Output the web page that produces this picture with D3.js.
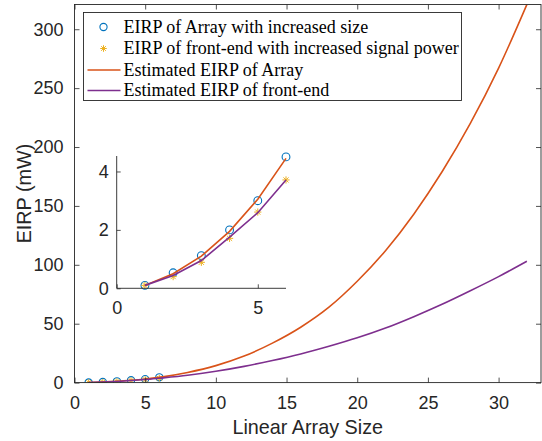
<!DOCTYPE html>
<html>
<head>
<meta charset="utf-8">
<script src="https://cdn.jsdelivr.net/npm/d3@7"></script>
<style>
  body { margin: 0; background: #fff; }
  svg { display: block; }
  .tick text { font-family: "Liberation Sans", Arial, sans-serif; fill: #262626; }
  .tick line { stroke: #262626; }
</style>
</head>
<body>
<div id="chart"></div>
<script>
// Measured points (array size 1..6)
var sizeN = [1, 2, 3, 4, 5, 6];
var eirpArray = [0.1, 0.53, 1.12, 2.0, 3.0, 4.5];
var eirpFrontEnd = [0.1, 0.4, 0.89, 1.71, 2.61, 3.71];

// Estimated curves
var estN = [1, 2, 3, 4, 5, 6, 8, 10, 12, 14, 16, 18, 20, 22, 24, 26, 28, 30, 32];
var estArray = [0.1, 0.5, 1.1, 1.95, 3.05, 4.45, 8.6, 14.4, 22.5, 33.5, 47.0, 64.0, 86.0, 112.0, 143.0, 179.0, 220.0, 267.0, 321.0];
var estFrontEnd = [0.1, 0.44, 0.95, 1.75, 2.59, 3.71, 6.2, 9.6, 13.8, 18.7, 24.3, 30.8, 38.0, 46.3, 56.0, 66.5, 78.0, 90.0, 103.0];

var xTicks = [0, 5, 10, 15, 20, 25, 30];
var yTicks = [0, 50, 100, 150, 200, 250, 300];
var insetXTicks = [0, 5];
var insetYTicks = [0, 2, 4];

var legendLabels = [
  "EIRP of Array with increased size",
  "EIRP of front-end with increased signal power",
  "Estimated EIRP of Array",
  "Estimated EIRP of front-end"
];

var blue = "#0072BD", yellow = "#EDB120", orange = "#D95319", purple = "#7E2F8E";
var axisColor = "#262626";

var svgWidth = 542, svgHeight = 441;

var svg = d3.select("#chart").append("svg")
  .attr("width", svgWidth)
  .attr("height", svgHeight);

var measured = sizeN.map((n, i) => ({n: n, a: eirpArray[i], f: eirpFrontEnd[i]}));
var estimated = estN.map((n, i) => ({n: n, a: estArray[i], f: estFrontEnd[i]}));

// star marker (+ and x)
function starPath(s) {
  var d = s * 0.707;
  return `M${-s},0L${s},0M0,${-s}L0,${s}M${-d},${-d}L${d},${d}M${-d},${d}L${d},${-d}`;
}

function drawSeries(g, x, y, lineData, curve, r) {
  var lineA = d3.line().x(d => x(d.n)).y(d => y(d.a)).curve(curve);
  var lineF = d3.line().x(d => x(d.n)).y(d => y(d.f)).curve(curve);

  g.append("g").selectAll("circle")
    .data(measured).enter().append("circle")
    .attr("cx", d => x(d.n)).attr("cy", d => y(d.a))
    .attr("r", r)
    .attr("fill", "none").attr("stroke", blue).attr("stroke-width", 1.1);

  g.append("g").selectAll("path")
    .data(measured).enter().append("path")
    .attr("transform", d => `translate(${x(d.n)},${y(d.f)})`)
    .attr("d", starPath(r - 0.3))
    .attr("stroke", yellow).attr("stroke-width", 1).attr("fill", "none");

  g.append("path").datum(lineData)
    .attr("d", lineA).attr("fill", "none")
    .attr("stroke", orange).attr("stroke-width", 1.6);

  g.append("path").datum(lineData)
    .attr("d", lineF).attr("fill", "none")
    .attr("stroke", purple).attr("stroke-width", 1.6);
}

// ---------------- Main axes ----------------
var main = {left: 74.5, right: 541, top: 4.5, bottom: 382.6};

var xScale = d3.scaleLinear().domain([0, 33]).range([main.left, main.right]);
var yScale = d3.scaleLinear().domain([0, 321]).range([main.bottom, main.top]);

var mainGroup = svg.append("g");

mainGroup.append("rect")
  .attr("x", main.left).attr("y", main.top)
  .attr("width", main.right - main.left).attr("height", main.bottom - main.top)
  .attr("fill", "#fff");

svg.append("clipPath").attr("id", "clipMain")
  .append("rect")
  .attr("x", main.left).attr("y", main.top)
  .attr("width", main.right - main.left).attr("height", main.bottom - main.top);

drawSeries(mainGroup.append("g").attr("clip-path", "url(#clipMain)"),
  xScale, yScale, estimated, d3.curveMonotoneX, 3.6);

// axes with inward ticks on all four sides
var bottomAxis = d3.axisBottom(xScale).tickValues(xTicks).tickSizeInner(-5).tickSizeOuter(0).tickPadding(14);
var topAxis = d3.axisTop(xScale).tickValues(xTicks).tickSizeInner(-5).tickSizeOuter(0).tickFormat("");
var leftAxis = d3.axisLeft(yScale).tickValues(yTicks).tickSizeInner(-5).tickSizeOuter(0).tickPadding(11);
var rightAxis = d3.axisRight(yScale).tickValues(yTicks).tickSizeInner(-5).tickSizeOuter(0).tickFormat("");

function styleAxis(sel, size) {
  sel.select(".domain").remove();
  sel.selectAll(".tick text").attr("font-size", size);
  sel.selectAll(".tick line").attr("stroke-width", 0.8);
}

mainGroup.append("g").attr("transform", `translate(0,${main.bottom})`).call(bottomAxis).call(styleAxis, 18);
mainGroup.append("g").attr("transform", `translate(0,${main.top})`).call(topAxis).call(styleAxis, 18);
mainGroup.append("g").attr("transform", `translate(${main.left},0)`).call(leftAxis).call(styleAxis, 18);
mainGroup.append("g").attr("transform", `translate(${main.right},0)`).call(rightAxis).call(styleAxis, 18);

mainGroup.append("rect")
  .attr("x", main.left).attr("y", main.top)
  .attr("width", main.right - main.left).attr("height", main.bottom - main.top)
  .attr("fill", "none").attr("stroke", axisColor).attr("stroke-width", 0.9);

// axis labels
mainGroup.append("text")
  .attr("x", (main.left + main.right) / 2)
  .attr("y", 434)
  .attr("text-anchor", "middle")
  .attr("font-family", "Liberation Sans, Arial, sans-serif")
  .attr("font-size", 19.8)
  .attr("fill", axisColor)
  .text("Linear Array Size");

mainGroup.append("text")
  .attr("transform", `translate(31,${(main.top + main.bottom) / 2}) rotate(-90)`)
  .attr("text-anchor", "middle")
  .attr("font-family", "Liberation Sans, Arial, sans-serif")
  .attr("font-size", 19.8)
  .attr("fill", axisColor)
  .text("EIRP (mW)");

// ---------------- Inset axes ----------------
var inset = {left: 116.7, right: 286, top: 156, bottom: 288.3};

var xInset = d3.scaleLinear().domain([0, 6]).range([inset.left, inset.right]);
var yInset = d3.scaleLinear().domain([0, 4.53]).range([inset.bottom, inset.top]);

var insetGroup = svg.append("g");

insetGroup.append("rect")
  .attr("x", inset.left).attr("y", inset.top)
  .attr("width", inset.right - inset.left).attr("height", inset.bottom - inset.top)
  .attr("fill", "#fff");

drawSeries(insetGroup, xInset, yInset, estimated.filter(d => d.n <= 6), d3.curveLinear, 3.9);

var insetBottom = d3.axisBottom(xInset).tickValues(insetXTicks).tickFormat(d3.format("d"))
  .tickSizeInner(-4).tickSizeOuter(0).tickPadding(13);
var insetLeft = d3.axisLeft(yInset).tickValues(insetYTicks).tickFormat(d3.format("d"))
  .tickSizeInner(-4).tickSizeOuter(0).tickPadding(8);

insetGroup.append("g").attr("transform", `translate(0,${inset.bottom})`).call(insetBottom).call(styleAxis, 18);
insetGroup.append("g").attr("transform", `translate(${inset.left},0)`).call(insetLeft).call(styleAxis, 18);

insetGroup.append("path")
  .attr("d", `M${inset.left},${inset.top}V${inset.bottom}H${inset.right}`)
  .attr("fill", "none").attr("stroke", axisColor).attr("stroke-width", 0.9);

// ---------------- Legend ----------------
var legend = svg.append("g").attr("transform", "translate(83.5,12.5)");

legend.append("rect")
  .attr("width", 378).attr("height", 88)
  .attr("fill", "#fff").attr("stroke", axisColor).attr("stroke-width", 0.9);

var rowY = [14.5, 36, 57.5, 78];

legendLabels.forEach(function(label, i) {
  var row = legend.append("g").attr("transform", `translate(0,${rowY[i]})`);
  if (i === 0) {
    row.append("circle").attr("cx", 20).attr("cy", 0).attr("r", 3.6)
      .attr("fill", "none").attr("stroke", blue).attr("stroke-width", 1.1);
  } else if (i === 1) {
    row.append("path").attr("transform", "translate(20,0)").attr("d", starPath(3.3))
      .attr("stroke", yellow).attr("stroke-width", 1).attr("fill", "none");
  } else {
    row.append("line").attr("x1", 4).attr("x2", 37).attr("y1", 0).attr("y2", 0)
      .attr("stroke", i === 2 ? orange : purple).attr("stroke-width", 1.6);
  }
  row.append("text")
    .attr("x", 40).attr("y", 5.8)
    .attr("font-family", "Liberation Serif, Times New Roman, serif")
    .attr("font-size", 18)
    .attr("fill", "#000")
    .text(label);
});
</script>
</body>
</html>
